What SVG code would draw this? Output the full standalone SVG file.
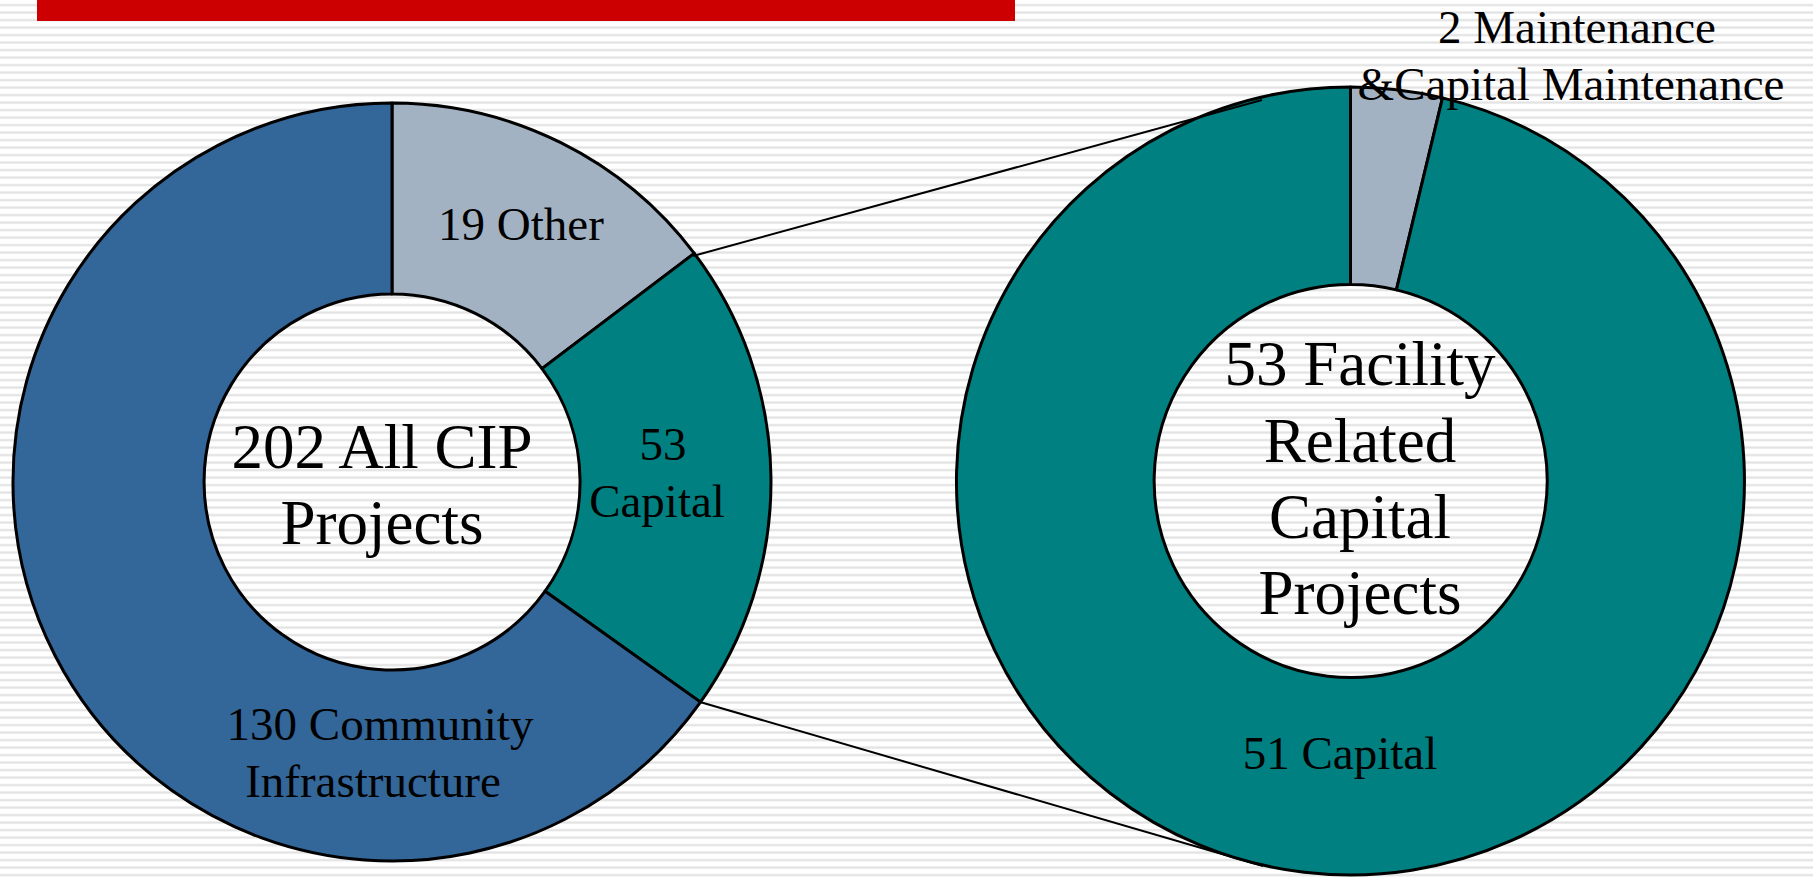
<svg xmlns="http://www.w3.org/2000/svg" width="1813" height="879" viewBox="0 0 1813 879">
  <defs>
    <pattern id="stripes" x="0" y="0" width="20" height="7.5" patternUnits="userSpaceOnUse">
      <rect x="0" y="0" width="20" height="7.5" fill="#ffffff"/>
      <rect x="0" y="4" width="20" height="2.2" fill="#e2e2e2"/>
    </pattern>
  </defs>
  <style>
    .slice { stroke: #000000; stroke-width: 3; stroke-linejoin: round; }
    .blue { fill: #336699; }
    .gray { fill: #A3B2C2; }
    .teal { fill: #008080; }
    .conn { stroke: #000000; stroke-width: 2; fill: none; }
    .lbl { font-family: "Liberation Serif", "Times New Roman", serif; font-size: 47px; fill: #000000; text-anchor: middle; }
    .big { font-family: "Liberation Serif", "Times New Roman", serif; font-size: 63px; fill: #000000; text-anchor: middle; }
  </style>

  <rect x="0" y="0" width="1813" height="879" fill="url(#stripes)"/>
  <rect id="title-bar" x="37" y="0" width="978" height="21" fill="#CC0000"/>

  <g id="donut-all-cip">
    <path id="slice-other" class="slice gray" d="M 392,103 A 379 379 0 0 1 694.3,253.4 L 542,368.6 A 188 188 0 0 0 392,294 Z"/>
    <path id="slice-capital" class="slice teal" d="M 694.3,253.4 A 379 379 0 0 1 700.5,702.1 L 545.1,591.2 A 188 188 0 0 0 542,368.6 Z"/>
    <path id="slice-community" class="slice blue" d="M 700.5,702.1 A 379 379 0 1 1 392,103 L 392,294 A 188 188 0 1 0 545.1,591.2 Z"/>
    <text class="lbl" x="521" y="240">19 Other</text>
    <text class="lbl" x="663" y="460">53</text>
    <text class="lbl" x="657" y="517">Capital</text>
    <text class="lbl" x="380" y="740">130 Community</text>
    <text class="lbl" x="373" y="797">Infrastructure</text>
    <text class="big" x="382" y="468">202 All CIP</text>
    <text class="big" x="382" y="544">Projects</text>
  </g>

  <g id="donut-facility">
    <path id="slice-maintenance" class="slice gray" d="M 1350.5,87 A 394 394 0 0 1 1442.5,97.9 L 1396.4,289.9 A 196.5 196.5 0 0 0 1350.5,284.5 Z"/>
    <path id="slice-capital51" class="slice teal" d="M 1442.5,97.9 A 394 394 0 1 1 1350.5,87 L 1350.5,284.5 A 196.5 196.5 0 1 0 1396.4,289.9 Z"/>
    <text class="lbl" x="1340" y="769">51 Capital</text>
    <text class="big" x="1360" y="385">53 Facility</text>
    <text class="big" x="1360" y="462">Related</text>
    <text class="big" x="1360" y="538">Capital</text>
    <text class="big" x="1360" y="614">Projects</text>
  </g>

  <g id="connectors">
    <line class="conn" x1="693" y1="256" x2="1262" y2="100"/>
    <line class="conn" x1="700" y1="702" x2="1263" y2="866"/>
  </g>

  <g id="maintenance-label">
    <text class="lbl" x="1577" y="43">2 Maintenance</text>
    <text class="lbl" x="1571" y="100">&amp;Capital Maintenance</text>
  </g>
</svg>
